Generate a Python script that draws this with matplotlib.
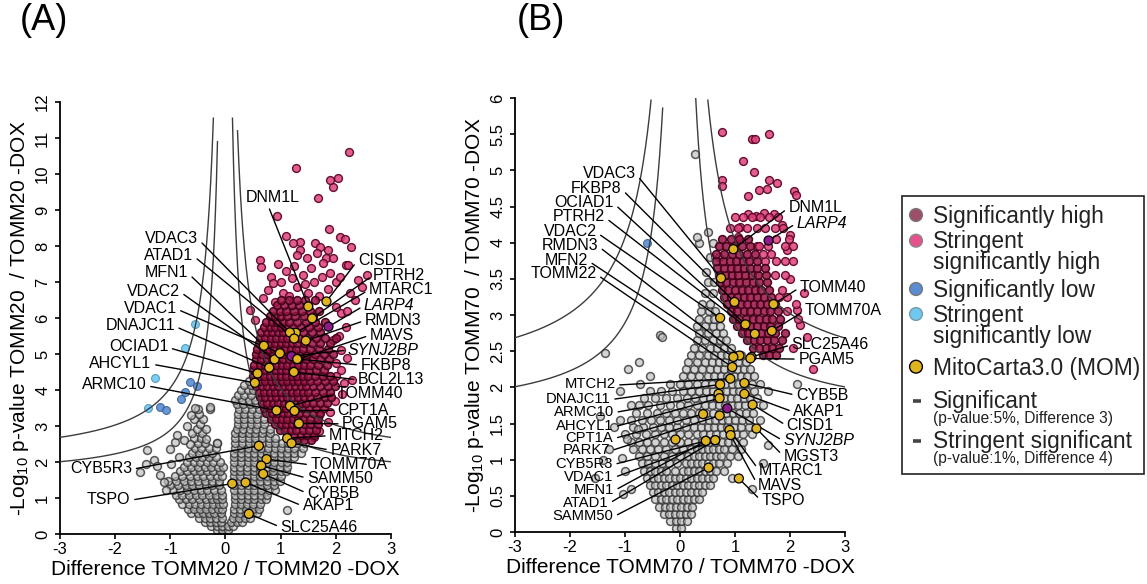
import numpy as np
import matplotlib.pyplot as plt
from matplotlib.patches import Rectangle
from matplotlib.ticker import FuncFormatter

plt.rcParams['font.family'] = ['Liberation Sans', 'DejaVu Sans']
plt.rcParams['mathtext.fontset'] = 'custom'
plt.rcParams['mathtext.rm'] = 'Liberation Sans'
plt.rcParams['mathtext.it'] = 'Liberation Sans:italic'
plt.rcParams['axes.unicode_minus'] = False

# threshold curves  y = c / |x - centre| + b
inner_c, inner_b = 1.31, 1.57   # p 5%, difference 3
outer_c, outer_b = 2.05, 2.00   # p 1%, difference 4

# ---------------- panel A : TOMM20 ----------------
grey_a_rows = [
    (0.02, [-0.07, 0.01]),
    (0.12, [-0.16, -0.06, 0.04]),
    (0.22, [-0.26, -0.16, -0.06, 0.05, 0.14]),
    (0.33, [-0.38, -0.28, -0.18, -0.08, 0.1, 0.2, 0.3]),
    (0.45, [-0.48, -0.38, -0.28, -0.18, -0.07, 0.13, 0.24, 0.35, 0.44]),
    (0.58, [-0.62, -0.5, -0.4, -0.3, -0.2, -0.08, 0.15, 0.26, 0.37, 0.48, 0.58]),
    (0.70, [-0.68, -0.57, -0.46, -0.35, -0.24, -0.14, -0.06, 0.16, 0.27, 0.38, 0.49, 0.6]),
    (0.83, [-0.78, -0.66, -0.55, -0.44, -0.33, -0.22, -0.12, -0.05, 0.17, 0.28, 0.39, 0.5, 0.62]),
    (0.96, [-0.85, -0.72, -0.6, -0.48, -0.36, -0.25, -0.15, -0.06, 0.17, 0.28, 0.4, 0.52, 0.64, 0.74]),
    (1.09, [-0.9, -0.78, -0.66, -0.54, -0.42, -0.3, -0.18, -0.07, 0.17, 0.28, 0.4, 0.52, 0.64, 0.76]),
    (1.22, [-0.95, -0.82, -0.7, -0.58, -0.45, -0.33, -0.2, -0.08, 0.16, 0.28, 0.4, 0.52, 0.64, 0.78, 0.9]),
    (1.35, [-1.0, -0.86, -0.72, -0.6, -0.48, -0.36, -0.24, -0.12, 0.16, 0.28, 0.4, 0.52, 0.64, 0.76, 0.88]),
    (1.48, [-1.05, -0.9, -0.75, -0.62, -0.5, -0.38, -0.25, -0.12, 0.15, 0.27, 0.39, 0.51, 0.63, 0.75, 0.88, 0.98]),
    (1.61, [-0.92, -0.78, -0.64, -0.52, -0.4, -0.28, -0.16, -0.06, 0.15, 0.27, 0.39, 0.51, 0.63, 0.75, 0.87, 1.0]),
    (1.74, [-0.82, -0.7, -0.58, -0.46, -0.34, -0.22, -0.1, 0.15, 0.27, 0.39, 0.51, 0.63, 0.75, 0.87, 1.0, 1.1]),
    (1.87, [-0.75, -0.62, -0.5, -0.38, -0.26, -0.14, -0.05, 0.15, 0.27, 0.39, 0.51, 0.63, 0.75, 0.87, 0.99, 1.12]),
    (2.00, [-0.7, -0.58, -0.46, -0.34, -0.22, -0.1, 0.16, 0.28, 0.4, 0.52, 0.64, 0.76, 0.88, 1.0, 1.12]),
    (2.13, [-0.66, -0.54, -0.42, -0.3, -0.18, 0.16, 0.28, 0.4, 0.52, 0.64, 0.76, 0.88, 1.0, 1.12, 1.24]),
    (2.26, [-0.6, -0.48, -0.36, -0.24, 0.16, 0.28, 0.4, 0.52, 0.64, 0.76, 0.88, 1.0, 1.12, 1.24, 1.36]),
    (2.40, [-0.56, -0.44, -0.3, -0.18, 0.17, 0.29, 0.41, 0.53, 0.65, 0.77, 0.89, 1.01, 1.13, 1.25, 1.4]),
    (2.53, [-0.5, -0.38, -0.16, 0.18, 0.3, 0.42, 0.54, 0.66, 0.78, 0.9, 1.02, 1.14, 1.3, 1.45]),
    (2.66, [-0.58, -0.45, 0.18, 0.3, 0.42, 0.54, 0.66, 0.78, 0.9]),
    (2.80, [-0.6, -0.42, 0.18, 0.3, 0.42, 0.54, 0.66, 0.8]),
    (2.93, [-0.52, -0.36, 0.2, 0.32, 0.44, 0.56, 0.68, 0.8]),
    (3.06, [-0.46, 0.22, 0.34, 0.46, 0.58, 0.7]),
    (3.20, [-0.58, -0.4, 0.22, 0.34, 0.46, 0.58, 0.7]),
    (3.33, [-0.48, 0.22, 0.34, 0.46, 0.58]),
    (3.46, [-0.5, -0.28, 0.24, 0.36, 0.48, 0.6]),
    (3.60, [0.2, 0.32, 0.44, 0.56]),
    (3.73, [0.18, 0.3, 0.42, 0.54]),
    (3.86, [0.22, 0.34, 0.46]),
    (4.00, [0.28, 0.4, 0.5]),
    (4.13, [0.34, 0.46]),
    (4.26, [0.42]),
]
grey_a_extra_x = [-1.55, -1.43, -1.3, -1.25, -1.18, -1.12, -1.08, -1.0, -0.92, -0.88, -0.98,
                  -0.85, -0.16, -0.28, -0.35, -0.7, -0.65, -0.62, -0.75, 1.11, -1.45, -0.55]
grey_a_extra_y = [1.73, 2.33, 2.05, 1.88, 1.65, 1.45, 1.22, 2.35, 2.55, 2.75, 1.95,
                  2.15, 2.52, 3.54, 2.65, 3.0, 2.5, 3.3, 2.6, 0.67, 1.95, 3.5]

# dense core of the high cloud
red_a_rows = [
    (2.60, [1.3, 1.42, 1.55]),
    (2.75, [1.12, 1.24, 1.36, 1.48, 1.6]),
    (2.90, [0.98, 1.08, 1.18, 1.28, 1.4, 1.52, 1.64]),
    (3.05, [0.9, 1.0, 1.1, 1.2, 1.3, 1.42, 1.54, 1.68]),
    (3.20, [0.82, 0.92, 1.02, 1.12, 1.22, 1.32, 1.42, 1.54, 1.68]),
    (3.35, [0.74, 0.84, 0.94, 1.04, 1.14, 1.24, 1.34, 1.46, 1.58, 1.72]),
    (3.50, [0.7, 0.8, 0.9, 1.0, 1.1, 1.2, 1.3, 1.4, 1.52, 1.64, 1.78]),
    (3.65, [0.66, 0.76, 0.86, 0.96, 1.06, 1.16, 1.26, 1.36, 1.46, 1.58, 1.72, 1.84]),
    (3.80, [0.62, 0.72, 0.82, 0.92, 1.02, 1.12, 1.22, 1.32, 1.42, 1.54, 1.66, 1.8, 1.92]),
    (3.95, [0.6, 0.7, 0.8, 0.9, 1.0, 1.1, 1.2, 1.3, 1.4, 1.5, 1.62, 1.76, 1.9]),
    (4.10, [0.56, 0.66, 0.76, 0.86, 0.96, 1.06, 1.16, 1.26, 1.36, 1.46, 1.58, 1.72, 1.86, 1.98]),
    (4.25, [0.52, 0.62, 0.72, 0.82, 0.92, 1.02, 1.12, 1.22, 1.32, 1.42, 1.54, 1.66, 1.8, 1.95]),
    (4.40, [0.5, 0.6, 0.7, 0.8, 0.9, 1.0, 1.1, 1.2, 1.3, 1.4, 1.5, 1.62, 1.76, 1.9]),
    (4.55, [0.5, 0.6, 0.7, 0.8, 0.9, 1.0, 1.1, 1.2, 1.3, 1.4, 1.52, 1.64, 1.78]),
    (4.70, [0.52, 0.62, 0.72, 0.82, 0.92, 1.02, 1.12, 1.22, 1.32, 1.42, 1.54, 1.68, 1.84]),
    (4.85, [0.55, 0.65, 0.75, 0.85, 0.95, 1.05, 1.15, 1.25, 1.35, 1.46, 1.58, 1.72, 1.88]),
    (5.00, [0.56, 0.66, 0.76, 0.86, 0.96, 1.06, 1.16, 1.26, 1.36, 1.48, 1.62, 1.78, 1.95]),
    (5.15, [0.58, 0.68, 0.78, 0.88, 0.98, 1.08, 1.18, 1.28, 1.4, 1.54, 1.7, 1.86]),
    (5.30, [0.6, 0.7, 0.8, 0.9, 1.0, 1.1, 1.2, 1.3, 1.42, 1.56, 1.72, 1.9]),
    (5.45, [0.62, 0.72, 0.82, 0.92, 1.02, 1.12, 1.22, 1.34, 1.48, 1.64, 1.8, 2.0]),
    (5.60, [0.65, 0.75, 0.85, 0.95, 1.05, 1.15, 1.26, 1.4, 1.56, 1.72]),
    (5.75, [0.7, 0.8, 0.9, 1.0, 1.1, 1.22, 1.36, 1.52, 1.68]),
    (5.90, [0.74, 0.84, 0.94, 1.04, 1.16, 1.3, 1.46, 1.62, 1.8]),
    (6.05, [0.8, 0.9, 1.0, 1.12, 1.26, 1.42, 1.58]),
    (6.20, [0.86, 0.98, 1.1, 1.24, 1.38, 1.54, 1.7]),
    (6.35, [0.94, 1.06, 1.2, 1.34, 1.5]),
    (6.50, [1.0, 1.15, 1.3, 1.45, 1.62]),
]
# scattered high points around the core
red_a_extra_x = [0.44, 0.53, 0.62, 0.64, 0.82, 0.87, 0.77, 1.05, 0.9, 0.68, 1.09, 1.35, 1.23, 1.35,
                 1.29, 1.62, 1.71, 1.86, 1.65, 1.47, 1.83, 1.95, 1.77, 2.19, 2.07, 2.17, 2.27, 1.88,
                 0.93, 1.68, 1.95, 2.04, 1.89, 1.28, 2.24, 1.1, 1.2, 1.4, 1.55, 1.6, 1.75, 1.9, 2.0,
                 1.3, 1.5, 1.7, 1.85, 1.15, 1.0, 0.95, 1.25, 1.45, 2.56, 2.4, 2.47, 2.25, 2.22, 2.07,
                 2.1, 2.19, 1.95, 2.3, 2.0, 2.15, 2.1, 2.0, 2.2, 2.35, 2.05, 2.1, 2.2, 2.0, 2.12,
                 1.98, 1.9, 1.85, 1.7, 1.6, 1.7]
red_a_extra_y = [6.22, 5.94, 7.6, 7.42, 7.15, 6.96, 6.78, 6.69, 6.45, 6.55, 8.28, 8.12, 8.07, 7.89,
                 7.75, 8.07, 7.98, 7.89, 7.8, 7.66, 7.66, 7.66, 7.52, 7.47, 8.24, 8.19, 7.98, 8.47,
                 8.83, 9.32, 9.63, 9.88, 9.83, 10.16, 10.62, 7.3, 7.1, 7.2, 7.4, 7.0, 7.15, 7.25, 7.0,
                 6.85, 6.7, 6.6, 6.8, 6.6, 7.0, 7.5, 7.45, 6.95, 7.19, 7.06, 6.87, 6.69, 7.47, 7.15,
                 6.13, 5.76, 5.39, 4.28, 4.4, 4.2, 4.55, 6.3, 6.2, 6.5, 5.5, 5.1, 4.9, 4.75, 3.9,
                 3.7, 3.4, 3.1, 2.85, 2.7, 3.3]

blue_a_x = [-0.645, -0.524, -0.736, -0.80, -1.19, -1.07]
blue_a_y = [4.21, 4.12, 3.95, 3.75, 3.54, 3.44]
lblue_a_x = [-0.554, -0.736, -1.28, -1.40]
lblue_a_y = [5.82, 5.18, 4.32, 3.49]

genes_a = ['DNM1L', 'CISD1', 'PTRH2', 'MTARC1', 'LARP4', 'RMDN3', 'MAVS', 'SYNJ2BP', 'FKBP8',
           'BCL2L13', 'TOMM40', 'CPT1A', 'PGAM5', 'MTCH2', 'PARK7', 'TOMM70A', 'SAMM50', 'CYB5B',
           'AKAP1', 'SLC25A46', 'VDAC3', 'ATAD1', 'MFN1', 'VDAC2', 'VDAC1', 'DNAJC11', 'OCIAD1',
           'AHCYL1', 'ARMC10', 'CYB5R3', 'TSPO']
gene_a_x = [1.50, 1.83, 1.57, 1.275, 1.867, 1.456, 1.318, 1.197, 1.30, 1.239, 1.17, 1.25, 1.33,
            1.118, 1.197, 0.744, 0.647, 0.683, 0.363, 0.424, 1.167, 1.245, 0.696, 0.889, 0.986,
            0.792, 0.581, 0.532, 0.925, 0.605, 0.122]
gene_a_y = [6.32, 6.46, 5.99, 5.59, 5.76, 5.37, 4.86, 4.94, 4.86, 4.50, 3.56, 3.42, 3.07, 2.66,
            2.52, 2.08, 1.90, 1.67, 1.43, 0.56, 5.60, 5.43, 5.23, 4.85, 5.02, 4.62, 4.46, 4.20,
            3.43, 2.45, 1.40]
text_a_x = [0.865, 2.40, 2.676, 2.60, 2.51, 2.525, 2.616, 2.22, 2.447, 2.404, 2.012, 2.024, 2.115,
            1.879, 1.90, 1.54, 1.48, 1.48, 1.396, 0.997, -0.494, -0.585, -0.675, -0.826, -0.886,
            -0.917, -1.037, -1.34, -1.43, -1.69, -1.72]
text_a_y = [9.35, 7.61, 7.19, 6.78, 6.34, 5.93, 5.52, 5.11, 4.69, 4.28, 3.89, 3.44, 3.06, 2.73,
            2.33, 1.92, 1.55, 1.13, 0.78, 0.19, 8.21, 7.75, 7.26, 6.75, 6.27, 5.79, 5.20, 4.74,
            4.14, 1.82, 0.96]
side_a = ['c'] + ['r'] * 19 + ['l'] * 11

# ---------------- panel B : TOMM70 ----------------
grey_b_rows = [
    (0.05, [-0.08, 0.02]),
    (0.15, [-0.18, -0.08, 0.02, 0.12]),
    (0.25, [-0.3, -0.2, -0.1, 0.0, 0.1, 0.2]),
    (0.35, [-0.38, -0.28, -0.18, -0.08, 0.02, 0.12, 0.22]),
    (0.45, [-0.45, -0.35, -0.25, -0.15, -0.05, 0.05, 0.15, 0.25, 0.35]),
    (0.55, [-0.5, -0.4, -0.3, -0.2, -0.1, 0.0, 0.1, 0.2, 0.3, 0.4]),
    (0.65, [-0.55, -0.45, -0.35, -0.25, -0.15, -0.05, 0.05, 0.15, 0.25, 0.35, 0.45, 0.55]),
    (0.75, [-0.6, -0.5, -0.4, -0.3, -0.2, -0.1, 0.0, 0.1, 0.2, 0.3, 0.4, 0.5, 0.6, 0.95]),
    (0.85, [-0.65, -0.55, -0.45, -0.35, -0.25, -0.1, 0.05, 0.15, 0.25, 0.35, 0.45, 0.55, 0.65, 0.8]),
    (0.95, [-0.7, -0.58, -0.45, -0.32, -0.2, -0.05, 0.1, 0.2, 0.3, 0.4, 0.5, 0.6, 0.7, 0.85]),
    (1.05, [-0.75, -0.6, -0.45, -0.3, -0.15, 0.0, 0.15, 0.25, 0.35, 0.45, 0.55, 0.65, 0.75, 0.9, 1.05]),
    (1.15, [-0.85, -0.7, -0.55, -0.4, -0.25, -0.1, 0.05, 0.2, 0.3, 0.4, 0.5, 0.6, 0.7, 0.8, 0.95, 1.1]),
    (1.25, [-0.9, -0.75, -0.6, -0.45, -0.3, -0.15, 0.0, 0.15, 0.28, 0.4, 0.52, 0.64, 0.76, 0.88, 1.0, 1.15]),
    (1.35, [-1.0, -0.8, -0.62, -0.45, -0.3, -0.15, 0.0, 0.15, 0.3, 0.42, 0.54, 0.66, 0.78, 0.9, 1.02, 1.15, 1.3]),
    (1.45, [-0.85, -0.68, -0.5, -0.35, -0.2, -0.05, 0.1, 0.25, 0.38, 0.5, 0.62, 0.74, 0.86, 0.98, 1.1, 1.25]),
    (1.55, [-1.1, -0.9, -0.7, -0.52, -0.36, -0.2, -0.05, 0.1, 0.25, 0.4, 0.52, 0.64, 0.76, 0.88, 1.0, 1.12, 1.25, 1.45]),
    (1.65, [-0.8, -0.6, -0.42, -0.25, -0.1, 0.05, 0.2, 0.35, 0.48, 0.6, 0.72, 0.84, 0.96, 1.08, 1.2, 1.32]),
    (1.75, [-0.9, -0.75, -0.58, -0.36, -0.18, 0.0, 0.15, 0.3, 0.45, 0.58, 0.7, 0.82, 0.94, 1.06, 1.18, 1.3, 1.5]),
    (1.85, [-0.65, -0.45, -0.25, -0.05, 0.12, 0.28, 0.42, 0.55, 0.68, 0.8, 0.92, 1.04, 1.16, 1.28, 1.4]),
    (1.95, [-0.55, -0.35, -0.15, 0.05, 0.2, 0.35, 0.48, 0.6, 0.72, 0.84, 0.96, 1.08, 1.2, 1.35, 1.6]),
    (2.05, [-0.73, -0.18, 0.0, 0.15, 0.3, 0.45, 0.58, 0.7, 0.82, 0.94, 1.06, 1.18, 1.3, 1.45, 2.12]),
    (2.15, [-0.55, 0.05, 0.2, 0.35, 0.5, 0.62, 0.74, 0.86, 0.98, 1.1, 1.22, 1.35]),
    (2.25, [0.1, 0.25, 0.4, 0.55, 0.68, 0.8, 0.92, 1.04, 1.16, 1.28]),
    (2.35, [0.15, 0.3, 0.45, 0.58, 0.7, 0.82, 0.94, 1.06, 1.2]),
    (2.45, [0.2, 0.35, 0.5, 0.62, 0.74, 0.86, 0.98, 1.1]),
    (2.55, [0.25, 0.4, 0.55, 0.68, 0.8, 0.92]),
    (2.65, [0.3, 0.45, 0.6, 0.72, 0.84]),
    (2.75, [0.35, 0.5, 0.65, 0.78]),
    (2.85, [0.3, 0.45, 0.6, 0.72]),
    (2.95, [0.35, 0.5, 0.62]),
    (3.05, [0.38, 0.52, 0.64]),
    (3.15, [0.4, 0.55]),
    (3.30, [0.45, 0.6]),
    (3.45, [0.5, 0.62]),
    (3.60, [0.48]),
    (3.80, [0.55, 0.7]),
    (4.00, [0.35, 0.6]),
    (4.15, [0.5]),
]
grey_b_extra_x = [-1.2, -1.3, -1.0, -0.9, -1.45, -1.1, -0.95, -0.75, -1.36, -0.36, -0.33, 0.27,
                  0.30, 1.6, 1.5, 1.3, -1.55, -1.4, -1.03, -1.06, -0.97, -0.76]
grey_b_extra_y = [1.45, 1.15, 0.85, 0.6, 1.6, 1.95, 2.25, 2.35, 2.48, 2.72, 2.70, 5.22,
                  4.08, 1.2, 0.95, 0.6, 0.75, 1.0, 0.53, 1.02, 1.29, 1.43]

red_b_rows = [
    (2.45, [1.5, 1.62, 1.75]),
    (2.55, [1.32, 1.44, 1.56, 1.68, 1.8]),
    (2.65, [1.22, 1.34, 1.46, 1.58, 1.7, 1.85]),
    (2.75, [1.12, 1.24, 1.36, 1.48, 1.6, 1.72, 1.9]),
    (2.85, [1.04, 1.16, 1.28, 1.4, 1.52, 1.64, 1.78]),
    (2.95, [0.96, 1.08, 1.2, 1.32, 1.44, 1.56, 1.68, 1.82]),
    (3.05, [0.92, 1.04, 1.16, 1.28, 1.4, 1.52, 1.64, 1.78]),
    (3.15, [0.86, 0.98, 1.1, 1.22, 1.34, 1.46, 1.58, 1.72]),
    (3.25, [0.8, 0.92, 1.04, 1.16, 1.28, 1.4, 1.52, 1.66]),
    (3.35, [0.76, 0.88, 1.0, 1.12, 1.24, 1.36, 1.48, 1.62]),
    (3.45, [0.72, 0.84, 0.96, 1.08, 1.2, 1.32, 1.44, 1.58]),
    (3.55, [0.7, 0.82, 0.94, 1.06, 1.18, 1.3, 1.42, 1.56]),
    (3.65, [0.68, 0.8, 0.92, 1.04, 1.16, 1.28, 1.4, 1.54]),
    (3.75, [0.66, 0.78, 0.9, 1.02, 1.14, 1.26, 1.4]),
    (3.85, [0.66, 0.8, 0.94, 1.08, 1.22, 1.36]),
    (3.95, [0.7, 0.84, 0.98, 1.12, 1.28]),
    (4.05, [0.76, 0.92, 1.08, 1.24]),
]
red_b_extra_x = [0.758, 1.30, 1.36, 1.62, 1.14, 1.35, 0.76, 0.76, 1.61, 1.76, 1.43, 1.58, 1.24,
                 2.07, 2.1, 1.24, 1.39, 1.53, 1.70, 1.09, 1.06, 1.85, 2.0, 1.95, 2.05, 2.12,
                 2.18, 2.42, 2.0, 2.25, 1.95, 2.3, 2.05, 2.15, 1.95, 2.1, 1.9, 1.8, 1.85, 1.72,
                 1.9, 1.75, 1.55, 1.4, 1.44, 1.6, 1.9, 2.05, 1.75, 1.98, 0.9, 1.06, 1.22, 1.4,
                 1.55, 1.72, 1.88, 1.0, 1.15, 1.3, 1.45, 1.62, 1.78, 1.65, 1.5]
red_b_extra_y = [5.53, 5.44, 5.44, 5.50, 5.13, 4.98, 4.87, 4.78, 4.86, 4.82, 4.73, 4.74, 4.64,
                 4.71, 4.66, 4.40, 4.37, 4.41, 4.39, 4.22, 4.08, 4.25, 4.1, 3.9, 3.75, 3.07,
                 2.86, 2.26, 3.5, 3.3, 3.25, 2.7, 2.55, 2.95, 3.05, 3.15, 3.55, 3.25, 3.35,
                 3.55, 3.75, 3.75, 3.75, 3.95, 3.95, 3.95, 3.95, 3.95, 4.05, 4.05, 4.2, 4.2, 4.2,
                 4.2, 4.2, 4.2, 4.2, 4.35, 4.35, 4.35, 4.35, 4.35, 4.35, 3.85, 3.85]

blue_b_x = [-0.606]
blue_b_y = [4.0]

genes_b = ['VDAC3', 'FKBP8', 'OCIAD1', 'PTRH2', 'VDAC2', 'RMDN3', 'MFN2', 'TOMM22', 'MTCH2',
           'DNAJC11', 'ARMC10', 'AHCYL1', 'CPT1A', 'PARK7', 'CYB5R3', 'VDAC1', 'MFN1', 'ATAD1',
           'SAMM50', 'DNM1L', 'LARP4', 'TOMM40', 'TOMM70A', 'SLC25A46', 'PGAM5', 'CYB5B',
           'AKAP1', 'CISD1', 'SYNJ2BP', 'MGST3', 'MTARC1', 'MAVS', 'TSPO']
gene_b_x = [0.745, 0.99, 1.19, 1.36, 0.73, 1.08, 0.97, 0.95, 0.915, 0.73, 0.70, 0.72, 0.42,
            0.72, 0.47, 0.64, 0.47, 0.64, 0.52, 0.97, 1.61, 1.70, 1.67, 1.30, 1.28, 1.17, 1.17,
            1.32, 0.86, 1.39, 0.90, 0.92, 1.07]
gene_b_y = [3.51, 3.18, 2.87, 2.74, 2.96, 2.44, 2.42, 2.28, 2.12, 2.04, 1.91, 1.85, 1.63,
            1.61, 1.26, 1.27, 1.26, 1.27, 0.89, 3.91, 4.03, 3.15, 2.78, 2.42, 2.40, 2.06, 1.91,
            1.76, 1.71, 1.43, 1.41, 1.34, 0.74]
text_b_x = [-0.80, -1.06, -1.20, -1.364, -1.515, -1.485, -1.67, -1.515, -1.17, -1.26, -1.20,
            -1.21, -1.21, -1.27, -1.22, -1.21, -1.20, -1.30, -1.21, 1.97, 2.12, 2.18, 2.27, 2.03,
            2.15, 2.11, 2.06, 1.94, 1.88, 1.88, 1.44, 1.42, 1.48]
text_b_y = [4.96, 4.75, 4.55, 4.36, 4.15, 3.96, 3.76, 3.57, 2.04, 1.84, 1.66, 1.46, 1.30, 1.13,
            0.94, 0.76, 0.58, 0.40, 0.22, 4.48, 4.27, 3.38, 3.06, 2.59, 2.39, 1.89, 1.66, 1.47,
            1.26, 1.05, 0.85, 0.64, 0.43]
side_b = ['l'] * 19 + ['r'] * 14
other_yellow_b_x = [-0.09]
other_yellow_b_y = [1.29]

italic_genes = ['LARP4', 'SYNJ2BP']

GREY, GREY_EDGE = (0.74, 0.74, 0.74, 0.65), (0.20, 0.20, 0.20, 0.8)
PINK, PINK_EDGE = (0.88, 0.25, 0.49, 0.85), (0.36, 0.03, 0.15, 0.95)
CORE, CORE_EDGE = (0.60, 0.07, 0.27, 0.85), (0.25, 0.0, 0.09, 0.95)
BLUE, LBLUE = '#5a8cd2', '#6ec8f0'
YELLOW, PURPLE = '#e0b41e', '#8e1a8e'


def unroll(rows):
    xs, ys = [], []
    for y, row in rows:
        xs += row
        ys += [y] * len(row)
    return np.array(xs), np.array(ys)


def draw_curves(ax, cx, tops):
    for (sign, c, b), ytop in zip([(-1, outer_c, outer_b), (-1, inner_c, inner_b),
                                   (1, inner_c, inner_b), (1, outer_c, outer_b)], tops):
        d = np.linspace(c / (ytop - b), 3.3, 500)
        ax.plot(cx + sign * d, c / d + b, color='#3c3c3c', lw=1.0, zorder=3)


def draw_panel(ax, grey_rows, grey_ex, core_rows, red_ex, blues, lblues, cx,
               genes, gx, gy, tx, ty, sides, ymax, ystep, xlabel, ylabel, tops,
               extra_yellow=None, small_left=False):
    gxs, gys = unroll(grey_rows)
    ax.scatter(np.r_[gxs, grey_ex[0]], np.r_[gys, grey_ex[1]], s=32, facecolors=[GREY],
               edgecolors=[GREY_EDGE], linewidths=1.1, zorder=2)
    ax.scatter(red_ex[0], red_ex[1], s=32, facecolors=[PINK], edgecolors=[PINK_EDGE],
               linewidths=1.0, zorder=2)
    cxs, cys = unroll(core_rows)
    ax.scatter(cxs, cys, s=32, facecolors=[CORE], edgecolors=[CORE_EDGE],
               linewidths=1.1, zorder=2)
    ax.scatter(blues[0], blues[1], s=32, c=BLUE, edgecolors='#3a5f95', linewidths=0.8,
               alpha=0.9, zorder=2)
    if lblues is not None:
        ax.scatter(lblues[0], lblues[1], s=32, c=LBLUE, edgecolors='#4a98b8',
                   linewidths=0.8, alpha=0.9, zorder=2)
    draw_curves(ax, cx, tops)

    for name, px, py, lx, ly, sd in zip(genes, gx, gy, tx, ty, sides):
        if sd == 'l':
            ha, rel = 'right', (1, 0.45)
        elif sd == 'r':
            ha, rel = 'left', (0, 0.5)
        else:
            ha, rel = 'center', (0.4, 0)
        fs = 10.6 if (small_left and sd == 'l' and ly < 2.2) else 11.5
        ax.annotate(name, xy=(px, py), xytext=(lx, ly), ha=ha, va='center', fontsize=fs,
                    fontstyle='italic' if name in italic_genes else 'normal',
                    arrowprops=dict(arrowstyle='-', color='black', lw=1.0, shrinkA=1,
                                    shrinkB=0, relpos=rel),
                    annotation_clip=False, zorder=5)
    cols = [PURPLE if g in italic_genes else YELLOW for g in genes]
    ax.scatter(gx, gy, s=42, c=cols, edgecolors='black', linewidths=0.9, zorder=6)
    if extra_yellow is not None:
        ax.scatter(extra_yellow[0], extra_yellow[1], s=42, c=YELLOW, edgecolors='black',
                   linewidths=0.9, zorder=6)

    ax.set_xlim(-3, 3)
    ax.set_ylim(0, ymax)
    for s in ['top', 'right']:
        ax.spines[s].set_visible(False)
    for s in ['left', 'bottom']:
        ax.spines[s].set_linewidth(1.3)
    ax.set_xticks(range(-3, 4))
    ax.set_yticks(np.arange(0, ymax + 0.01, ystep))
    ax.yaxis.set_major_formatter(FuncFormatter(lambda v, p: f'{v:g}'))
    ax.tick_params(direction='out', length=3.6, width=1.2, labelsize=12)
    ax.tick_params(axis='x', pad=2)
    ax.tick_params(axis='y', pad=3.5, labelrotation=90)
    plt.setp(ax.get_yticklabels(), va='center')
    ax.set_xlabel(xlabel, fontsize=15, labelpad=2)
    ax.set_ylabel(ylabel, fontsize=15, labelpad=3)


fig = plt.figure(figsize=(11.47, 5.84), dpi=100)
ax_a = fig.add_axes([60 / 1147, 50 / 584, 331 / 1147, 432 / 584])
ax_b = fig.add_axes([515 / 1147, 52 / 584, 330 / 1147, 434 / 584])

draw_panel(ax_a, grey_a_rows, (grey_a_extra_x, grey_a_extra_y), red_a_rows,
           (red_a_extra_x, red_a_extra_y), (blue_a_x, blue_a_y), (lblue_a_x, lblue_a_y),
           -0.005, genes_a, gene_a_x, gene_a_y, text_a_x, text_a_y, side_a, 12, 1,
           'Difference TOMM20 / TOMM20 -DOX', r'-Log$_{10}$ p-value TOMM20  / TOMM20 -DOX',
           [11.55, 10.9, 11.55, 11.2])
draw_panel(ax_b, grey_b_rows, (grey_b_extra_x, grey_b_extra_y), red_b_rows,
           (red_b_extra_x, red_b_extra_y), (blue_b_x, blue_b_y), None,
           -0.01, genes_b, gene_b_x, gene_b_y, text_b_x, text_b_y, side_b, 6, 0.5,
           'Difference TOMM70 / TOMM70 -DOX', r'-Log$_{10}$ p-value TOMM70  / TOMM70 -DOX',
           [5.97, 5.86, 6.0, 5.97], extra_yellow=(other_yellow_b_x, other_yellow_b_y),
           small_left=True)

# overlay in pixel coordinates: panel letters and legend
ov = fig.add_axes([0, 0, 1, 1])
ov.set_xlim(0, 1147)
ov.set_ylim(584, 0)
ov.axis('off')
ov.text(20, 21, '(A)', fontsize=26, va='center')
ov.text(517, 21, '(B)', fontsize=26, va='center')

ov.add_patch(Rectangle((902, 196), 242, 278, fill=False, lw=1.2, ec='#222222'))
ov.scatter([916] * 5, [215, 240.7, 289, 314, 366.7], s=85,
           c=['#9e4d6a', '#e6508c', '#5a8cd2', '#6ec8f0', YELLOW],
           edgecolors=['#777777', '#888888', '#777777', '#7a9aaa', 'black'], linewidths=1.0)
for yy in [400.7, 440.7]:
    ov.plot([913, 920.5], [yy, yy], color='#444444', lw=2.6, solid_capstyle='butt')
big = [('Significantly high', 223.3), ('Stringent', 248), ('significantly high', 269),
       ('Significantly low', 296.7), ('Stringent', 321.7), ('significantly low', 343),
       ('MitoCarta3.0 (MOM)', 375), ('Significant', 408.3), ('Stringent significant', 448.3)]
for txt, yy in big:
    ov.text(933, yy, txt, fontsize=16.4, va='baseline', color='#222222')
ov.text(933, 423.5, '(p-value:5%, Difference 3)', fontsize=11.2, va='baseline', color='#222222')
ov.text(933, 463.5, '(p-value:1%, Difference 4)', fontsize=11.2, va='baseline', color='#222222')

fig.savefig('out.png', dpi=100)
